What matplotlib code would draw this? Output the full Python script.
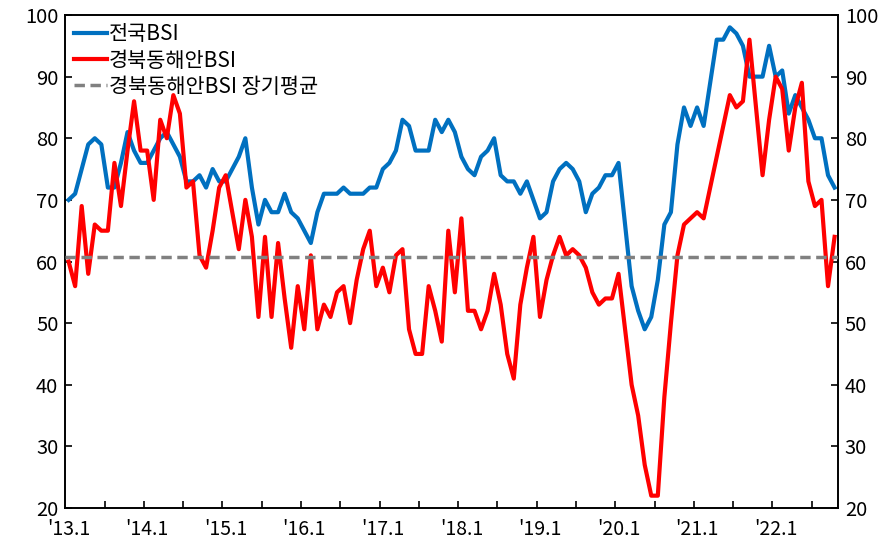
import matplotlib
matplotlib.use("Agg")
import matplotlib.pyplot as plt
import numpy as np

plt.rcParams["font.family"] = ["Noto Sans CJK KR", "DejaVu Sans"]

# monthly, 2013.1 ~ 2022.10
national_bsi = [70, 71, 75, 79, 80, 79, 72, 72, 76, 81, 78, 76, 76, 78, 80, 81, 79, 77, 73, 73, 74, 72, 75, 73,
                73, 75, 77, 80, 72, 66, 70, 68, 68, 71, 68, 67, 65, 63, 68, 71, 71, 71, 72, 71, 71, 71, 72, 72,
                75, 76, 78, 83, 82, 78, 78, 78, 83, 81, 83, 81, 77, 75, 74, 77, 78, 80, 74, 73, 73, 71, 73, 70,
                67, 68, 73, 75, 76, 75, 73, 68, 71, 72, 74, 74, 76, 66, 56, 52, 49, 51, 57, 66, 68, 79,
                85, 82, 85, 82, 89, 96, 96, 98, 97, 95, 90, 90, 90, 95, 90, 91, 84, 87, 85, 83, 80, 80, 74, 72]

east_coast_bsi = [60, 56, 69, 58, 66, 65, 65, 76, 69, 78, 86, 78, 78, 70, 83, 80, 87, 84, 72, 73, 61, 59, 65, 72,
                  74, 68, 62, 70, 64, 51, 64, 51, 63, 54, 46, 56, 49, 61, 49, 53, 51, 55, 56, 50, 57, 62, 65, 56,
                  59, 55, 61, 62, 49, 45, 45, 56, 52, 47, 65, 55, 67, 52, 52, 49, 52, 58, 53, 45, 41, 53, 59, 64,
                  51, 57, 61, 64, 61, 62, 61, 59, 55, 53, 54, 54, 58, 49, 40, 35, 27, 22, 22, 38, 50, 61,
                  66, 67, 68, 67, 72, 77, 82, 87, 85, 86, 96, 85, 74, 83, 90, 88, 78, 85, 89, 73, 69, 70, 56, 64]

long_term_avg = 60.8

tick_labels = ["'13.1", "'14.1", "'15.1", "'16.1", "'17.1", "'18.1", "'19.1", "'20.1", "'21.1", "'22.1"]

n = len(national_bsi)
x = np.arange(n)

fig = plt.figure(figsize=(8.96, 5.44), dpi=100)
ax = fig.add_axes([0.0729, 0.0662, 0.8622, 0.9062])

ax.plot(x, national_bsi, color="#0070C0", lw=3, label="전국BSI", solid_joinstyle="round")
ax.plot(x, east_coast_bsi, color="#FF0000", lw=3, label="경북동해안BSI", solid_joinstyle="round")
ax.plot([-0.5, n - 0.5], [long_term_avg, long_term_avg], color="#808080", lw=2.5,
        linestyle=(0, (3, 1.6)), label="경북동해안BSI 장기평균", zorder=3)

ax.set_xlim(-0.5, n - 0.5)
ax.set_ylim(20, 100)
ax.set_yticks(range(20, 101, 10))

# ticks on category boundaries every 6 months, labels under January
ax.set_xticks(np.arange(5.5, n, 6))
ax.set_xticklabels([])
ax.set_xticks(np.arange(0, n, 12)[:len(tick_labels)], tick_labels, minor=True)
ax.tick_params(axis="x", which="major", direction="in", length=5, width=1.2)
ax.tick_params(axis="x", which="minor", length=0, pad=8, labelsize=14)
ax.tick_params(axis="y", direction="in", length=5, width=1.2, right=True, labelright=True,
               labelsize=14.5, pad=5)

for sp in ax.spines.values():
    sp.set_linewidth(1.4)
    sp.set_color("black")

ax.legend(loc="upper left", frameon=False, fontsize=15, handlelength=1.6, handletextpad=0.1,
          borderaxespad=0.2, labelspacing=0.2, borderpad=0.2)

fig.savefig("out.png", dpi=100)
